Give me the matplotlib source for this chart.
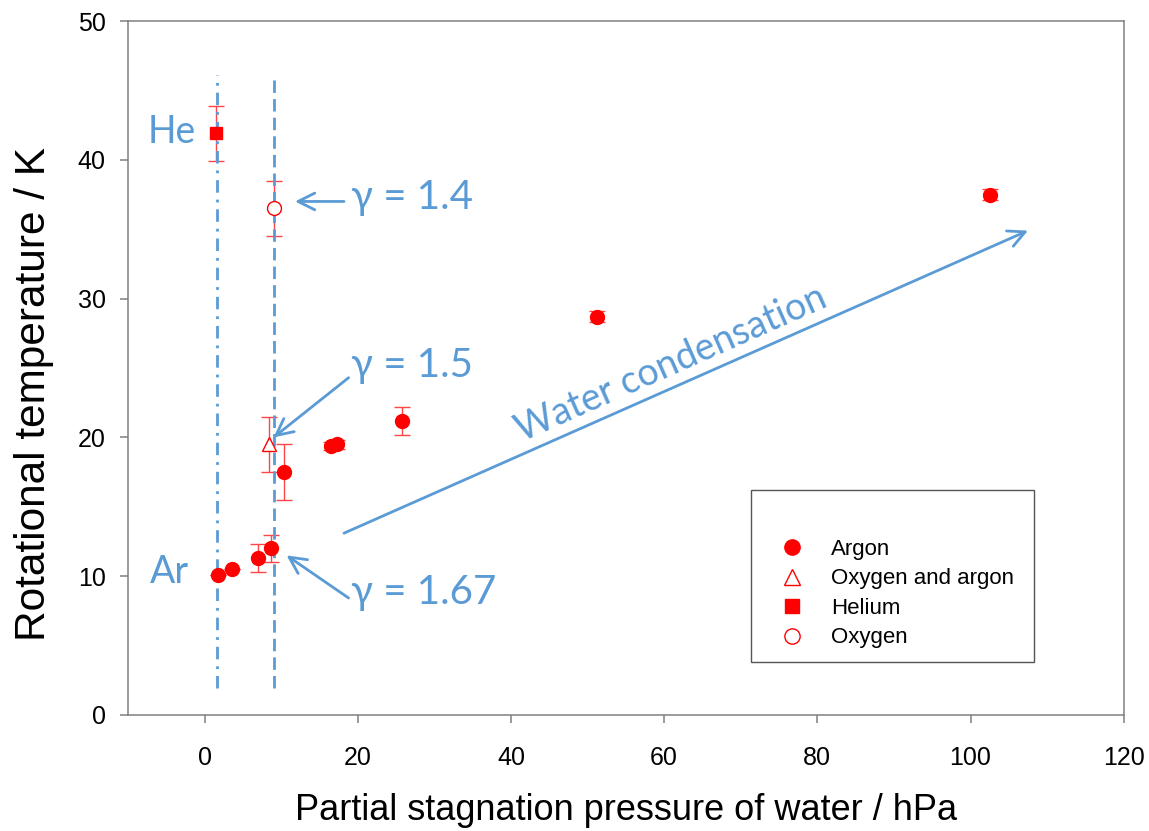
import matplotlib.pyplot as plt
from matplotlib.lines import Line2D
from matplotlib.patches import Rectangle
import numpy as np

plt.rcParams['font.family'] = ['Liberation Sans', 'DejaVu Sans']

# Argon series
argon_x = [1.8, 3.6, 7.0, 8.7, 10.4, 16.5, 17.3, 25.8, 51.2, 102.6]
argon_y = [10.1, 10.5, 11.3, 12.0, 17.5, 19.4, 19.5, 21.2, 28.7, 37.5]
argon_err = [0.0, 0.0, 1.0, 1.0, 2.0, 0.3, 0.3, 1.0, 0.4, 0.4]

# Oxygen and argon
oxar_x = [8.4]
oxar_y = [19.5]
oxar_err = [2.0]

# Helium
he_x = [1.5]
he_y = [41.9]
he_err = [2.0]

# Oxygen
ox_x = [9.0]
ox_y = [36.5]
ox_err = [2.0]

labels = ['Argon', 'Oxygen and argon', 'Helium', 'Oxygen']

blue = '#5B9BD5'
red = '#FF0000'
grey = '#808080'

fig = plt.figure(figsize=(11.49, 8.31), dpi=100)
ax = fig.add_axes([0.1114, 0.1396, 0.8666, 0.8351])

ebkw = dict(ecolor='#FF4545', elinewidth=1.0, capsize=6, capthick=1.0, linestyle='none')
ax.errorbar(argon_x, argon_y, yerr=argon_err, fmt='o', color=red, ms=10, **ebkw)
ax.errorbar(oxar_x, oxar_y, yerr=oxar_err, fmt='^', mfc='white', mec=red, ms=10, **ebkw)
ax.errorbar(he_x, he_y, yerr=he_err, fmt='s', color=red, ms=9, **ebkw)
ax.errorbar(ox_x, ox_y, yerr=ox_err, fmt='o', mfc='white', mec=red, ms=10, **ebkw)

# vertical reference lines
ax.plot([1.6, 1.6], [1.95, 46.1], color=blue, lw=2, linestyle=(0, (4.5, 2.5, 1, 2.5)))
ax.plot([9.1, 9.1], [1.95, 46.1], color=blue, lw=2, linestyle=(0, (4.5, 2.2)))

afont = dict(color=blue, family=['Lato', 'DejaVu Sans'])
ax.text(-4.3, 42.0, 'He', fontsize=27, ha='center', va='center', **afont)
ax.text(-4.6, 10.3, 'Ar', fontsize=27, ha='center', va='center', **afont)
ax.text(19.1, 37.3, 'γ = 1.4', fontsize=29, ha='left', va='center', **afont)
ax.text(19.1, 25.2, 'γ = 1.5', fontsize=29, ha='left', va='center', **afont)
ax.text(19.1, 8.86, 'γ = 1.67', fontsize=29, ha='left', va='center', **afont)
ax.text(60.9, 25.3, 'Water condensation', fontsize=27, ha='center', va='center',
        rotation=23.9, rotation_mode='anchor', **afont)

arw = dict(arrowstyle='->', color=blue, lw=2, mutation_scale=30, shrinkA=0, shrinkB=0)
ax.annotate('', xy=(11.8, 37.0), xytext=(18.2, 37.0), arrowprops=arw)
ax.annotate('', xy=(9.0, 20.0), xytext=(18.8, 24.3), arrowprops=arw)
ax.annotate('', xy=(10.7, 11.5), xytext=(18.8, 8.43), arrowprops=arw)
ax.annotate('', xy=(107.5, 34.9), xytext=(18.2, 13.1), arrowprops=arw)

ax.set_xlim(-10, 120)
ax.set_ylim(0, 50)
ax.set_xticks(np.arange(0, 121, 20))
ax.set_yticks(np.arange(0, 51, 10))
ax.tick_params(direction='out', length=6, width=1.1, labelsize=18, color=grey, pad=10)
ax.tick_params(axis='x', pad=16)
for s in ax.spines.values():
    s.set_color(grey)
    s.set_linewidth(1.1)

ax.set_xlabel('Partial stagnation pressure of water / hPa', fontsize=26, va='center')
ax.set_ylabel('Rotational temperature / K', fontsize=30.5, va='center')
ax.xaxis.set_label_coords(0.5, -0.138)
ax.yaxis.set_label_coords(-0.0944, 0.4625)

# legend
handles = [
    Line2D([], [], marker='o', ls='none', color=red, ms=11),
    Line2D([], [], marker='^', ls='none', mfc='white', mec=red, ms=11),
    Line2D([], [], marker='s', ls='none', color=red, ms=10),
    Line2D([], [], marker='o', ls='none', mfc='white', mec=red, ms=11),
]
ax.legend(handles, labels, loc='upper left', bbox_to_anchor=(0.6506, 0.2536),
          fontsize=16, frameon=False, borderaxespad=0, borderpad=0,
          handletextpad=1.0, labelspacing=0.38, handlelength=1.5)
ax.add_patch(Rectangle((0.6255, 0.0764), 0.284, 0.248, transform=ax.transAxes,
                       fill=False, ec='#555555', lw=1.0))

fig.savefig('out.png', dpi=100)
